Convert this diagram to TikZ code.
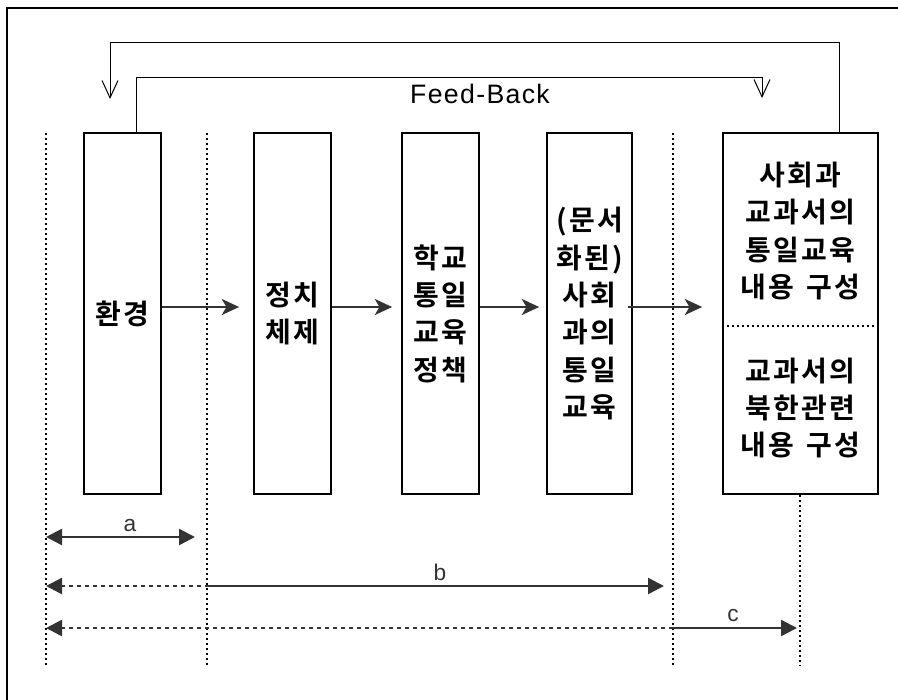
\documentclass[tikz,border=0pt]{standalone}
\usepackage{fontspec}
\setmainfont{Liberation Sans}
\newfontfamily\krfont{Noto Sans CJK KR}[BoldFont={Noto Sans CJK KR Bold},LetterSpace=8]
\newfontfamily\fbfont{Liberation Sans}[LetterSpace=5]
\usetikzlibrary{arrows.meta}
\usetikzlibrary{calc}
\definecolor{ink}{RGB}{51,51,51}

\begin{document}
\begin{tikzpicture}[x=0.75pt,y=0.75pt,yscale=-1,xscale=1,
  box/.style={draw, line width=1.3pt, rectangle, inner sep=0pt, minimum height=270.75pt, align=center, font=\krfont\bfseries\fontsize{21}{28}\selectfont},
  kr/.style={inner sep=0pt, align=center, font=\krfont\bfseries\fontsize{21}{28}\selectfont},
  flow/.style={draw=ink, line width=1.7pt, -{Stealth[length=13pt,width=12pt,inset=3.5pt]}},
  guide/.style={line width=1.5pt, dash pattern=on 1.5pt off 2.25pt},
  span/.style={draw=ink, line width=1.8pt},
  spandash/.style={draw=ink, line width=1.8pt, dash pattern=on 3pt off 3pt},
  tipL/.style={{Triangle[length=12pt,width=12pt]}-},
  tipR/.style={-{Triangle[length=12pt,width=12pt]}},
  tipLR/.style={{Triangle[length=12pt,width=12pt]}-{Triangle[length=12pt,width=12pt]}},
  back/.style={line width=0.75pt, -{Straight Barb[length=13pt,width=12pt]}},
  lbl/.style={anchor=base, inner sep=0pt, text=ink, font=\fontsize{17}{18}\selectfont}
]
\useasboundingbox (0,0) rectangle (898,699);
%Frame
\draw [line width=1.1pt] (7,710) -- (7,8) -- (910,8) ;

%Shape: Rectangle boxes
\draw (122.5,313.5) node [box, minimum width=57.75pt] (env) {환경};
\draw (292.5,313.5) node [box, minimum width=57.75pt] (pol) {정치\\체제};
\draw (440.5,313.5) node [box, minimum width=57.75pt] (pln) {학교\\통일\\교육\\정책};
\draw (589.5,313.5) node [box, minimum width=63.75pt] (doc) {(문서\\화된)\\사회\\과의\\통일\\교육};
\draw (800.5,313.5) node [box, minimum width=116.25pt] (txt) {};

% Text Node
\draw (800.5,231) node [kr] (txtup) {사회과\\교과서의\\통일교육\\내용\hspace{0.45em}구성};
% Text Node
\draw (800.5,408) node [kr] (txtdn) {교과서의\\북한관련\\내용\hspace{0.45em}구성};
\coordinate (mid) at (800,326);
\draw [guide] (txt.west |- mid) -- (txt.east |- mid) ;

%Flow arrows
\coordinate (lvl) at (0,307);
\draw [flow, shorten >=10.5pt] (env.east |- lvl) -- (pol.west |- lvl) ;
\draw [flow, shorten >=6.75pt] (pol.east |- lvl) -- (pln.west |- lvl) ;
\draw [flow, shorten >=5.25pt] (pln.east |- lvl) -- (doc.west |- lvl) ;
\draw [flow, shorten >=15pt] ($(doc.east |- lvl)+(-5,0)$) -- (txt.west |- lvl) ;

%Feed-Back lines
\coordinate (fbout) at (110,43);
\coordinate (fbin) at (762,77);
\draw [back] (txt.north -| 839,0) |- (fbout) -- (110,99) ;
\draw [back] (env.north -| 136,0) |- (fbin) -- (762,98) ;
% Text Node
\draw (480,103) node [anchor=base, inner sep=0pt, font=\fbfont\fontsize{20}{22}\selectfont] (fbl) {Feed-Back};

%Dotted guides
\coordinate (g1t) at (46,133);   \coordinate (g1b) at (46,665);
\coordinate (g2t) at (207,133);  \coordinate (g2b) at (207,665);
\coordinate (g3t) at (673,133);  \coordinate (g3b) at (673,665);
\coordinate (g4b) at (800,665);
\draw [guide] (g1t) -- (g1b) ;
\draw [guide] (g2t) -- (g2b) ;
\draw [guide] (g3t) -- (g3b) ;
\draw [guide] (txt.south -| g4b) -- (g4b) ;

%Spans a, b, c
\coordinate (aL) at (46,537);  \coordinate (aR) at (195,537);
\draw [span, tipLR] (aL) -- (aR) ;
\draw (130,531) node [lbl] (la) {a};
\coordinate (bL) at (46,586);  \coordinate (bM) at (207,586);  \coordinate (bR) at (664,586);
\draw [spandash, tipL] (bL) -- (bM) ;
\draw [span, tipR] (bM) -- (bR) ;
\draw (440,580) node [lbl] (lb) {b};
\coordinate (cL) at (46,628);  \coordinate (cM) at (673,628);  \coordinate (cR) at (797,628);
\draw [spandash, tipL] (cL) -- (cM) ;
\draw [span, tipR] (cM) -- (cR) ;
\draw (733,621) node [lbl] (lc) {c};

\end{tikzpicture}
\end{document}
